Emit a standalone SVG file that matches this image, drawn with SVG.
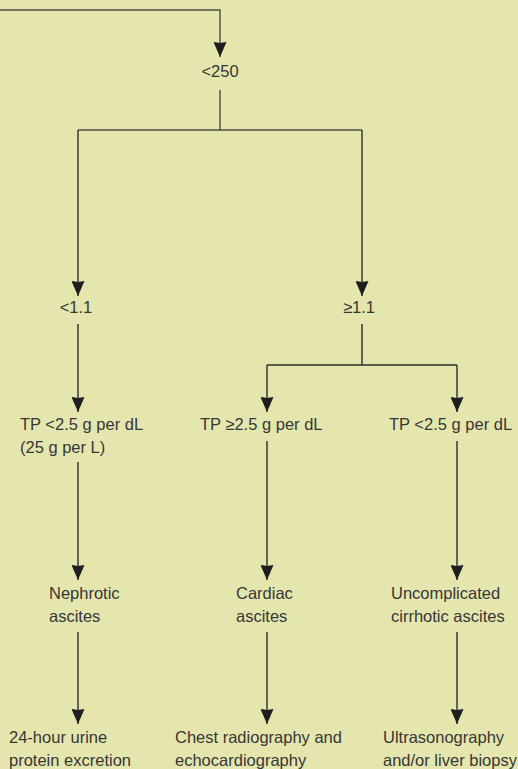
<svg xmlns="http://www.w3.org/2000/svg" width="518" height="769" viewBox="0 0 518 769">
  <defs>
    <style>
      .t { font-family: "Liberation Sans", Arial, sans-serif; font-size: 16.5px; fill: #363636; }
      .c { fill: none; stroke: #2b2b2b; stroke-width: 1.4; }
      .g { stroke: #4d4d45; }
    </style>
    <marker id="arr" viewBox="0 0 15 13" refX="15" refY="6.5" markerWidth="15" markerHeight="13" markerUnits="userSpaceOnUse" orient="auto">
      <path d="M0,0 L15,6.5 L0,13 L1,6.5 z" fill="#1e1e1e"/>
    </marker>
  </defs>
  <rect x="0" y="0" width="518" height="769" fill="#e5e6ae"/>

  <g id="connectors">
    <path class="c g" d="M0,10 H220 V57" marker-end="url(#arr)"/>
    <path class="c g" d="M220,90 V130 M78,130 H362"/>
    <path class="c" d="M78,130 V296" marker-end="url(#arr)"/>
    <path class="c" d="M362,130 V296" marker-end="url(#arr)"/>
    <path class="c" d="M362,324 V365 M267,365 H457"/>
    <path class="c" d="M267,365 V412" marker-end="url(#arr)"/>
    <path class="c" d="M457,365 V412" marker-end="url(#arr)"/>
    <path class="c" d="M78,324 V412" marker-end="url(#arr)"/>
    <path class="c" d="M78,462 V580" marker-end="url(#arr)"/>
    <path class="c" d="M267,441 V580" marker-end="url(#arr)"/>
    <path class="c" d="M457,441 V580" marker-end="url(#arr)"/>
    <path class="c" d="M78,632 V724" marker-end="url(#arr)"/>
    <path class="c" d="M267,632 V724" marker-end="url(#arr)"/>
    <path class="c" d="M457,632 V724" marker-end="url(#arr)"/>
  </g>

  <g id="n-lt250"><text class="t" x="220" y="77" text-anchor="middle">&lt;250</text></g>
  <g id="n-lt11"><text class="t" x="76" y="313" text-anchor="middle">&lt;1.1</text></g>
  <g id="n-ge11"><text class="t" x="359" y="313" text-anchor="middle">≥1.1</text></g>
  <g id="n-tp-left">
    <text class="t" x="20" y="430">TP &lt;2.5 g per dL</text>
    <text class="t" x="20" y="453">(25 g per L)</text>
  </g>
  <g id="n-tp-mid"><text class="t" x="200" y="430">TP ≥2.5 g per dL</text></g>
  <g id="n-tp-right"><text class="t" x="389" y="430">TP &lt;2.5 g per dL</text></g>
  <g id="n-nephrotic">
    <text class="t" x="49" y="599">Nephrotic</text>
    <text class="t" x="49" y="622">ascites</text>
  </g>
  <g id="n-cardiac">
    <text class="t" x="236" y="599">Cardiac</text>
    <text class="t" x="236" y="622">ascites</text>
  </g>
  <g id="n-cirrhotic">
    <text class="t" x="391" y="599">Uncomplicated</text>
    <text class="t" x="391" y="622">cirrhotic ascites</text>
  </g>
  <g id="n-urine">
    <text class="t" x="9" y="743">24-hour urine</text>
    <text class="t" x="9" y="766">protein excretion</text>
  </g>
  <g id="n-chest">
    <text class="t" x="175" y="743">Chest radiography and</text>
    <text class="t" x="175" y="766">echocardiography</text>
  </g>
  <g id="n-ultra">
    <text class="t" x="383" y="743">Ultrasonography</text>
    <text class="t" x="383" y="766">and/or liver biopsy</text>
  </g>
</svg>
